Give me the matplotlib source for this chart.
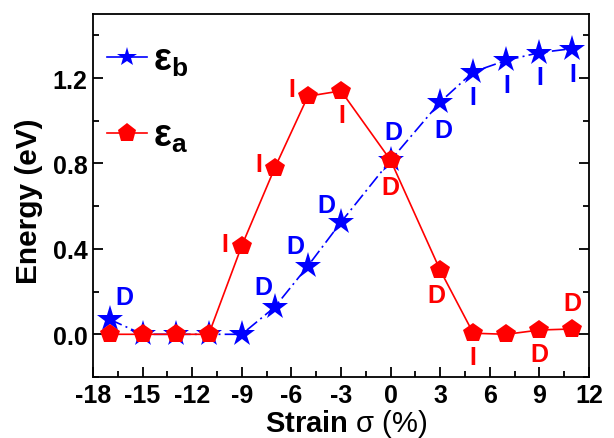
import matplotlib
matplotlib.use("Agg")
import matplotlib.pyplot as plt
from matplotlib.lines import Line2D

plt.rcParams['font.family'] = ['Liberation Sans', 'DejaVu Sans']
plt.rcParams['font.weight'] = 'bold'
plt.rcParams['mathtext.fontset'] = 'custom'
plt.rcParams['mathtext.rm'] = 'Liberation Sans:weight=normal'
plt.rcParams['mathtext.it'] = 'Liberation Sans:weight=normal'
plt.rcParams['mathtext.bf'] = 'Liberation Sans:weight=bold'

# Data
strain = [-17, -15, -13, -11, -9, -7, -5, -3, 0, 3, 5, 7, 9, 11]
eps_b = [0.07, 0.0, 0.0, 0.0, 0.0, 0.128, 0.32, 0.525, 0.815, 1.088, 1.229, 1.283, 1.319, 1.338]
eps_a = [0.0, 0.0, 0.0, 0.0, 0.415, 0.78, 1.115, 1.14, 0.815, 0.30, 0.005, 0.0, 0.02, 0.025]

# Gap-type labels: (index, text, dx_px, dy_px)  (dy positive = up)
labels_b = [(0, 'D', 15, 22), (5, 'D', -11, 20), (6, 'D', -13, 20), (7, 'D', -15, 17),
            (8, 'D', 3, 28), (9, 'D', 3, -28), (10, 'I', 0, -25), (11, 'I', 0, -25),
            (12, 'I', 0, -24), (13, 'I', 0, -25)]
labels_a = [(4, 'I', -17, 2), (5, 'I', -16, 4), (6, 'I', -16, 7), (7, 'I', 1, -24),
            (8, 'D', 0, -27), (9, 'D', -4, -25), (10, 'I', 0, -24), (12, 'D', 0, -24),
            (13, 'D', 0, 26)]

xticks = [-18, -15, -12, -9, -6, -3, 0, 3, 6, 9, 12]
yticks = [0.0, 0.4, 0.8, 1.2]

fig = plt.figure(figsize=(6.14, 4.39), dpi=100)
ax = fig.add_axes([93/614, 1-378/439, 496/614, 363/439])

blue = '#0000ff'
red = '#ff0000'

lb, = ax.plot(strain, eps_b, color=blue, lw=1.2, marker='*', ms=20,
              markeredgewidth=0, zorder=2)
lb.set_dashes([8, 2.5, 1.2, 2.5])
la, = ax.plot(strain, eps_a, color=red, lw=1.2, marker='p', ms=14.5,
              markeredgewidth=0, zorder=3)

px2pt = 0.72
for i, t, dx, dy in labels_b:
    ax.annotate(t, (strain[i], eps_b[i]), xytext=(dx*px2pt, dy*px2pt),
                textcoords='offset points', ha='center', va='center',
                color=blue, fontsize=18, fontweight='bold', zorder=4)
for i, t, dx, dy in labels_a:
    ax.annotate(t, (strain[i], eps_a[i]), xytext=(dx*px2pt, dy*px2pt),
                textcoords='offset points', ha='center', va='center',
                color=red, fontsize=18, fontweight='bold', zorder=4)

ax.set_xlim(-18, 12)
ax.set_ylim(-0.2, 1.5)
ax.set_xticks(xticks)
ax.set_xticklabels([str(v) for v in xticks])
ax.set_yticks(yticks)
ax.set_yticklabels([f'{v:.1f}' for v in yticks])
ax.set_xticks([v + 1.5 for v in xticks[:-1]], minor=True)
ax.set_yticks([-0.2, 0.2, 0.6, 1.0, 1.4], minor=True)

ax.tick_params(axis='both', which='major', direction='in', length=7, width=1.3,
               labelsize=18, pad=4)
ax.tick_params(axis='both', which='minor', direction='in', length=4, width=1.3)
ax.tick_params(axis='y', which='both', right=True)
for s in ax.spines.values():
    s.set_linewidth(1.3)

ax.set_ylabel('Energy (eV)', fontsize=21.5, fontweight='bold')
ax.yaxis.set_label_coords(-0.10, 0.488)
ax.set_xlabel(r'Strain $\sigma\ (\%)$', fontsize=21, fontweight='bold')
ax.xaxis.set_label_coords(0.51, -0.083)

hb = Line2D([], [], color=blue, lw=1.2, marker='*', ms=15, markeredgewidth=0)
ha = Line2D([], [], color=red, lw=1.2, marker='p', ms=14, markeredgewidth=0)
leg = ax.legend([hb, ha], [r'ε$_\mathbf{b}$', r'ε$_\mathbf{a}$'], loc='upper left',
                frameon=False, fontsize=27, handlelength=1.07, labelspacing=1.05,
                handletextpad=0.15, borderaxespad=0, borderpad=0,
                bbox_to_anchor=(0.028, 0.923))

fig.savefig('out.png', dpi=100)
